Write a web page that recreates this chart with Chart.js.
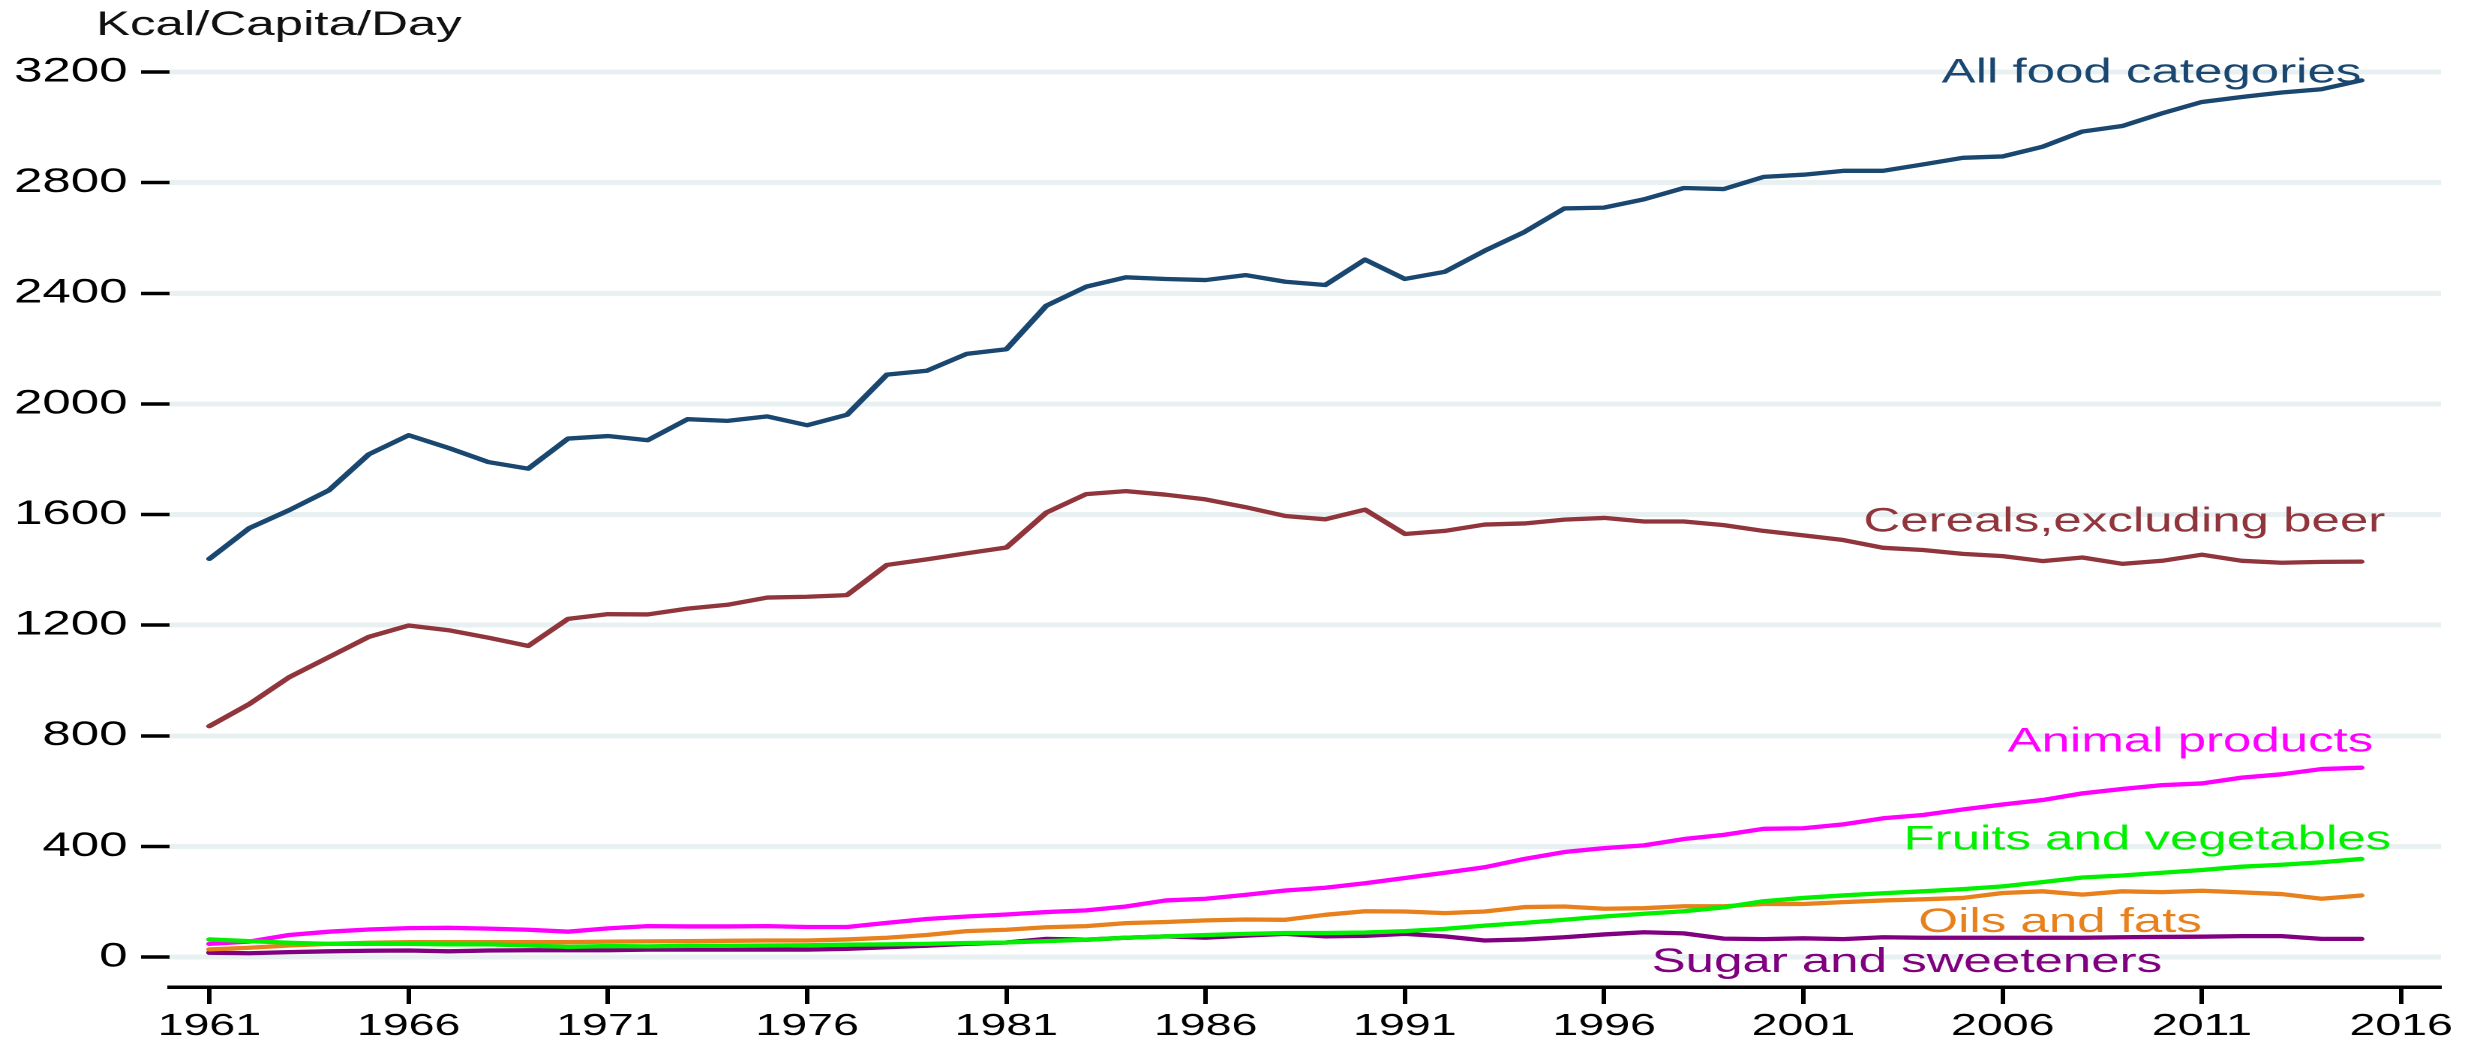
<!DOCTYPE html>
<html>
<head>
<meta charset="utf-8">
<script src="https://cdn.jsdelivr.net/npm/chart.js@4/dist/chart.umd.min.js"></script>
<style>
html,body{margin:0;padding:0;background:#fff;overflow:hidden}
</style>
</head>
<body>
<canvas id="c" width="1647" height="1048" style="display:block;width:2471px;height:1048px"></canvas>
<script>
// ---------------- DATA ----------------
const years = [1961,1962,1963,1964,1965,1966,1967,1968,1969,1970,
  1971,1972,1973,1974,1975,1976,1977,1978,1979,1980,
  1981,1982,1983,1984,1985,1986,1987,1988,1989,1990,
  1991,1992,1993,1994,1995,1996,1997,1998,1999,2000,
  2001,2002,2003,2004,2005,2006,2007,2008,2009,2010,
  2011,2012,2013,2014,2015];

const allFood = [1440,1551,1616,1688,1818,1887,1841,1790,1766,1875,
  1884,1869,1945,1939,1955,1923,1961,2106,2120,2181,
  2198,2355,2424,2458,2452,2448,2466,2442,2430,2522,
  2452,2478,2554,2622,2707,2710,2740,2781,2777,2821,
  2829,2843,2843,2866,2890,2895,2930,2985,3005,3051,
  3092,3110,3126,3138,3170];

const cereals = [835,915,1012,1085,1158,1199,1182,1155,1125,1223,
  1240,1239,1260,1274,1300,1303,1309,1418,1438,1460,
  1481,1607,1674,1685,1672,1655,1627,1595,1583,1618,
  1530,1541,1564,1568,1582,1588,1575,1575,1562,1541,
  1525,1508,1480,1472,1458,1450,1432,1445,1422,1433,
  1455,1433,1426,1429,1430];

const animalProducts = [48,56,80,92,100,105,106,103,99,92,
  104,112,111,111,112,109,109,124,138,147,
  154,163,169,183,205,211,225,241,251,267,
  286,305,325,355,380,394,404,427,442,464,
  466,480,502,514,534,552,568,592,608,622,
  628,649,661,680,685];

const fruitsVeg = [64,58,52,48,48,48,46,46,42,37,
  40,39,41,41,42,43,45,46,48,51,
  53,58,63,70,75,80,84,87,87,89,
  94,102,114,124,135,147,157,166,180,202,
  214,223,231,238,246,256,271,288,295,305,
  315,327,334,343,355];

const oilsFats = [28,34,42,48,52,54,54,54,54,54,
  56,57,58,59,60,60,64,70,80,94,
  99,108,112,123,127,133,136,135,153,166,
  165,159,165,181,183,175,177,184,184,192,
  192,199,205,209,214,232,238,226,238,235,
  240,234,228,211,223];

const sugarSweet = [16,14,18,21,23,24,21,24,25,25,
  25,27,27,27,27,27,30,36,41,48,
  53,66,63,70,75,70,78,84,75,77,
  84,75,60,64,72,82,90,86,67,65,
  68,65,72,70,70,70,70,70,72,73,
  74,76,76,66,66];

const xTickYears = [1961,1966,1971,1976,1981,1986,1991,1996,2001,2006,2011,2016];
const yTickValues = [0,400,800,1200,1600,2000,2400,2800,3200];
const yAxisTitle = 'Kcal/Capita/Day';
const seriesNames = ['All food categories','Cereals,excluding beer','Animal products',
  'Fruits and vegetables','Oils and fats','Sugar and sweeteners'];

// ---------------- STYLE ----------------
const FONT = '"Liberation Sans", Arial, sans-serif';
const colors = {
  allFood: '#1a476f',
  cereals: '#90353b',
  animal: '#ff00ff',
  fruits: '#00f000',
  oils: '#e8801c',
  sugar: '#800080'
};
const seriesColors = [colors.allFood, colors.cereals, colors.animal, colors.fruits, colors.oils, colors.sugar];
// label anchors (right end of text, baseline) in data coordinates
const labelAnchors = [
  {year: 2015.0, value: 3162},
  {year: 2015.6, value: 1539},
  {year: 2015.3, value: 744},
  {year: 2015.75, value: 390},
  {year: 2011.0, value: 90},
  {year: 2010.0, value: -54}
];

function pts(arr){ return years.map((yr,i)=>({x: yr, y: arr[i]})); }
function ds(label, arr, color){
  return {label, data: pts(arr), borderColor: color, backgroundColor: color,
    borderWidth: 4.3, pointRadius: 0, tension: 0, fill: false, borderJoinStyle: 'round', borderCapStyle: 'round'};
}

const textPlugin = {
  id: 'texts',
  afterDraw(chart){
    const {ctx} = chart; const xs = chart.scales.x, ys = chart.scales.y;
    ctx.save();
    ctx.direction = 'ltr';
    ctx.font = '34px ' + FONT;
    ctx.textAlign = 'right';
    ctx.textBaseline = 'alphabetic';
    seriesNames.forEach((t,i)=>{
      ctx.fillStyle = seriesColors[i];
      ctx.fillText(t, xs.getPixelForValue(labelAnchors[i].year), ys.getPixelForValue(labelAnchors[i].value));
    });
    ctx.textAlign = 'left';
    ctx.fillStyle = '#111';
    ctx.font = '34px ' + FONT;
    ctx.fillText(yAxisTitle, 64, 35);
    ctx.restore();
  }
};

new Chart(document.getElementById('c'), {
  type: 'line',
  data: {
    datasets: [
      ds(seriesNames[3], fruitsVeg, colors.fruits),
      ds(seriesNames[2], animalProducts, colors.animal),
      ds(seriesNames[4], oilsFats, colors.oils),
      ds(seriesNames[5], sugarSweet, colors.sugar),
      ds(seriesNames[1], cereals, colors.cereals),
      ds(seriesNames[0], allFood, colors.allFood)
    ]
  },
  options: {
    responsive: false,
    devicePixelRatio: 2,
    animation: false,
    layout: {padding: {top: 40, right: 20, bottom: 0, left: 0}},
    plugins: {legend: {display: false}, tooltip: {enabled: false}, title: {display: false}},
    scales: {
      x: {
        type: 'linear', min: 1960, max: 2017,
        afterBuildTicks: s => { s.ticks = xTickYears.map(v => ({value: v})); },
        afterFit: s => { s.height = 61; },
        grid: {drawOnChartArea: false, drawTicks: true, tickLength: 17, tickWidth: 3, tickColor: '#000'},
        border: {display: true, color: '#000', width: 3.5},
        ticks: {color: '#000', font: {family: FONT, size: 31}, padding: 4, maxRotation: 0, autoSkip: false,
          callback: v => String(v)}
      },
      y: {
        type: 'linear', min: -108, max: 3316,
        afterBuildTicks: s => { s.ticks = yTickValues.map(v => ({value: v})); },
        afterFit: s => { s.width = 113; },
        grid: {color: '#e8f0f2', lineWidth: 5, drawTicks: true, tickLength: 19, tickWidth: 3.5, tickColor: '#000'},
        border: {display: false},
        ticks: {color: '#000', font: {family: FONT, size: 34}, padding: 9, callback: v => String(v)}
      }
    }
  },
  plugins: [textPlugin]
});
</script>
</body>
</html>
